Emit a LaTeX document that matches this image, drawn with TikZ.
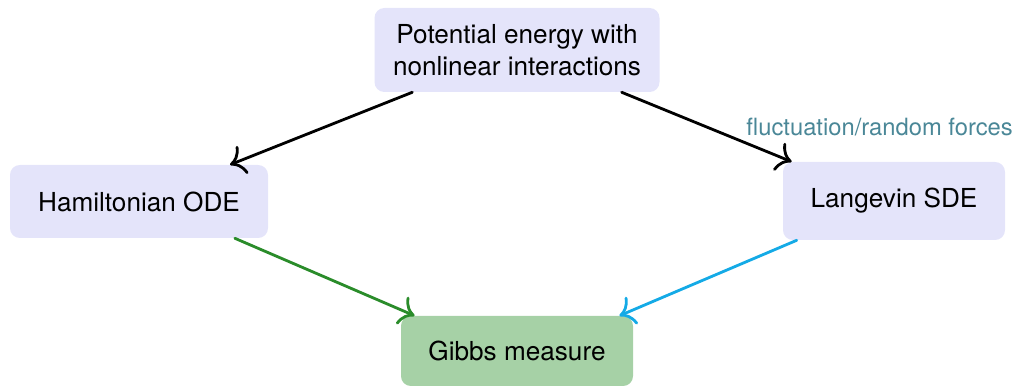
\documentclass[tikz,border=0pt]{standalone}
\usepackage{fontspec}
\setmainfont{TeX Gyre Heros}
\usetikzlibrary{arrows.meta}
\definecolor{boxlav}{HTML}{E4E4FA}
\definecolor{boxgreen}{HTML}{A6D1A6}
\definecolor{arrgreen}{HTML}{2A8C2A}
\definecolor{arrblue}{HTML}{14AAE6}
\definecolor{lblteal}{HTML}{4A8797}
\begin{document}
\begin{tikzpicture}[>={To[scale=1.7]},line cap=round,line join=round,
  box/.style={rounded corners=7pt,inner sep=0pt,align=center,
    font=\fontsize{18.6}{22.8}\selectfont},
  link/.style={->,line width=2pt}]
  \useasboundingbox (0,0) rectangle (25.4,9.675);
  % The four boxes.
  \node[box,fill=boxlav,minimum width=7.125cm,minimum height=2.1cm] (pot) at (12.925,8.425)
    {Potential energy with\\nonlinear interactions};
  \node[box,fill=boxlav,minimum width=6.45cm,minimum height=1.825cm] (ham) at (3.475,4.6375)
    {Hamiltonian ODE};
  \node[box,fill=boxlav,minimum width=5.55cm,minimum height=1.95cm] (lan) at (22.35,4.65)
    {Langevin SDE};
  \node[box,fill=boxgreen,minimum width=5.8cm,minimum height=1.75cm] (gib) at (12.925,0.9)
    {Gibbs measure};
  % Arrows between them.
  \draw[link] (pot.202) -- (ham.22);
  \draw[link] (pot.-22) -- (lan.159);
  \draw[link,arrgreen] (ham.-21.4) -- (gib.161.2);
  \draw[link,arrblue] (lan.202) -- (gib.19.2);
  \node[text=lblteal,inner sep=0pt,font=\fontsize{16.9}{20}\selectfont] (frc) at (21.99,6.5)
    {fluctuation/random forces};
\end{tikzpicture}
\end{document}
